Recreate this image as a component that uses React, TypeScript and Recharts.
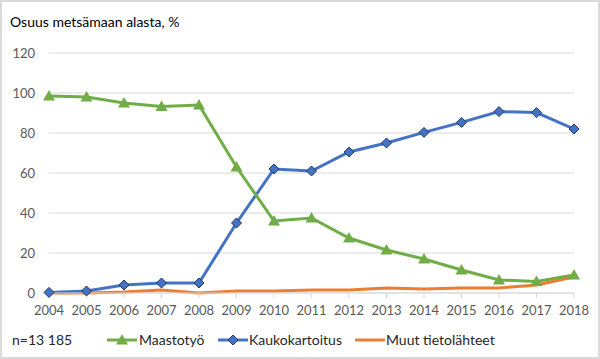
import React from 'react';
import { LineChart, Line, XAxis, YAxis, CartesianGrid } from 'recharts';

const years = ['2004', '2005', '2006', '2007', '2008', '2009', '2010', '2011', '2012', '2013', '2014', '2015', '2016', '2017', '2018'];
const maastotyo = [98.5, 98, 95, 93.2, 94, 63, 36, 37.5, 27.5, 21.5, 17, 11.5, 6.5, 5.8, 9];
const kaukokartoitus = [0.3, 1, 4, 5, 5, 35, 62, 61, 70.5, 75, 80.3, 85.3, 90.7, 90.2, 82];
const muut = [0, 0, 0.5, 1.5, 0, 1, 1, 1.5, 1.5, 2.5, 2, 2.5, 2.5, 4, 8];
const yTicks = [0, 20, 40, 60, 80, 100, 120];

const data = years.map((y, i) => ({
  year: y,
  maastotyo: maastotyo[i],
  kaukokartoitus: kaukokartoitus[i],
  muut: muut[i],
}));

const GREEN = '#70ad47';
const BLUE = '#4472c4';
const ORANGE = '#ed7d31';
const FONT = 'Lato, "Open Sans", sans-serif';

const Triangle = (props: any) => {
  const { cx, cy, key } = props;
  if (cx == null || cy == null) return <g key={key} />;
  return <path key={key} d={`M${cx},${cy - 6} L${cx + 6},${cy + 4.5} L${cx - 6},${cy + 4.5} Z`} fill={GREEN} />;
};

const Diamond = (props: any) => {
  const { cx, cy, key } = props;
  if (cx == null || cy == null) return <g key={key} />;
  return (
    <path key={key} d={`M${cx},${cy - 5} L${cx + 5},${cy} L${cx},${cy + 5} L${cx - 5},${cy} Z`} fill={BLUE} stroke="#203864" strokeWidth={1} />
  );
};

const LegendBox = () => (
  <svg width={596} height={24} style={{ position: 'absolute', left: 0, top: 327, fontFamily: FONT, fontSize: 14 }}>
    <text x={10} y={16} fill="#262626">n=13 185</text>
    <line x1={105} y1={11} x2={135} y2={11} stroke={GREEN} strokeWidth={3} />
    <path d="M120,5 L126,15.5 L114,15.5 Z" fill={GREEN} />
    <text x={137} y={16} fill="#262626">Maastotyö</text>
    <line x1={216} y1={11} x2={246} y2={11} stroke={BLUE} strokeWidth={3} />
    <path d="M231,6 L236,11 L231,16 L226,11 Z" fill={BLUE} stroke="#203864" strokeWidth={1} />
    <text x={247} y={16} fill="#262626">Kaukokartoitus</text>
    <line x1={353} y1={11} x2={383} y2={11} stroke={ORANGE} strokeWidth={3} />
    <text x={384} y={16} fill="#262626">Muut tietolähteet</text>
  </svg>
);

export default function App() {
  return (
    <div
      style={{
        position: 'absolute',
        left: 0,
        top: 0,
        width: 596,
        height: 355,
        border: '2px solid #d9d9d9',
        background: '#fff',
        fontFamily: FONT,
      }}
    >
      <div style={{ position: 'absolute', left: 8, top: 11, fontSize: 14, color: '#000' }}>Osuus metsämaan alasta, %</div>
      <LineChart width={596} height={355} data={data} margin={{ top: 51, right: 24, left: 0, bottom: 34 }}>
        <CartesianGrid vertical={false} stroke="#d9d9d9" strokeWidth={1} />
        <XAxis
          dataKey="year"
          stroke="#d9d9d9"
          tickSize={5}
          tickMargin={8}
          interval={0}
          tick={{ fill: '#595959', fontSize: 13, fontFamily: FONT }}
          height={30}
        />
        <YAxis
          domain={[0, 120]}
          ticks={yTicks}
          width={47}
          axisLine={false}
          tickLine={false}
          tickSize={0}
          tickMargin={14}
          tick={{ fill: '#595959', fontSize: 13, fontFamily: FONT }}
        />
        <Line type="linear" dataKey="muut" name="Muut tietolähteet" stroke={ORANGE} strokeWidth={3} dot={false} isAnimationActive={false} />
        <Line type="linear" dataKey="kaukokartoitus" name="Kaukokartoitus" stroke={BLUE} strokeWidth={3} dot={Diamond} isAnimationActive={false} />
        <Line type="linear" dataKey="maastotyo" name="Maastotyö" stroke={GREEN} strokeWidth={3} dot={Triangle} isAnimationActive={false} />
      </LineChart>
      <LegendBox />
    </div>
  );
}
